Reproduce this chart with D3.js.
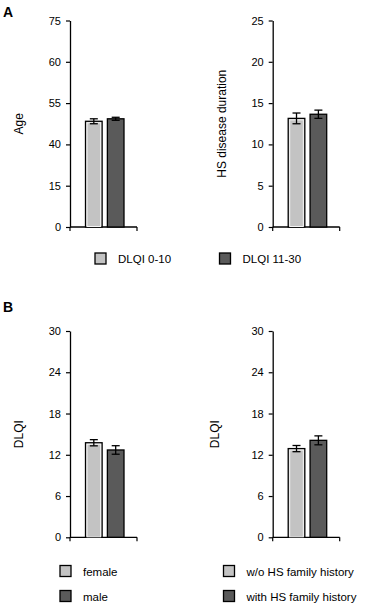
<!DOCTYPE html>
<html>
<head>
<meta charset="utf-8">
<script src="https://cdn.jsdelivr.net/npm/d3@7"></script>
<style>
  body { margin: 0; background: #fff; }
  text { font-family: "Liberation Sans", Arial, sans-serif; fill: #000; }
</style>
</head>
<body>
<div id="vis"></div>
<script>
// Datos
const ageTicks = [0, 15, 40, 55, 60, 75];
const ageMeans = [48.4, 49.3];
const ageErrors = [0.9, 0.55];

const durTicks = [0, 5, 10, 15, 20, 25];
const durMeans = [13.15, 13.65];
const durErrors = [0.65, 0.5];

const dlqiTicks = [0, 6, 12, 18, 24, 30];
const sexMeans = [13.75, 12.7];
const sexErrors = [0.45, 0.62];
const familyMeans = [12.9, 14.1];
const familyErrors = [0.45, 0.65];

const legendA = ["DLQI 0-10", "DLQI 11-30"];
const legendSex = ["female", "male"];
const legendFamily = ["w/o HS family history", "with HS family history"];

const WIDTH = 383;
const HEIGHT = 608;
const colores = ["#c3c3c3", "#5a5a5a"];

const SVG = d3.select("#vis").append("svg")
  .attr("width", WIDTH)
  .attr("height", HEIGHT);

// Dibuja un panel con eje Y, eje X y dos barras con error
function panel(axisX, top, bottom, ticks, means, errors, label, labelX) {
  const g = SVG.append("g");
  // escala polilineal: las marcas quedan igualmente espaciadas
  const y = d3.scaleLinear()
    .domain(ticks)
    .range(ticks.map((_, i) => bottom - (bottom - top) * i / (ticks.length - 1)));
  const x = d3.scaleBand()
    .domain([0, 1])
    .range([axisX + 15.5, axisX + 54])
    .paddingInner(0.24);

  const ejeY = d3.axisLeft(y).tickValues(ticks).tickSize(4).tickPadding(5).tickSizeOuter(0);
  const gy = g.append("g").attr("transform", `translate(${axisX},0)`).call(ejeY);
  gy.select(".domain").attr("stroke-width", 1.3);
  gy.selectAll(".tick line").attr("stroke-width", 1.2);
  gy.selectAll("text").attr("font-size", 11);

  // eje X con marcas en los extremos
  const xEnd = axisX + 67;
  g.append("line").attr("x1", axisX).attr("x2", xEnd)
    .attr("y1", bottom).attr("y2", bottom).attr("stroke", "black").attr("stroke-width", 1.3);
  [axisX, xEnd].forEach(px => {
    g.append("line").attr("x1", px).attr("x2", px)
      .attr("y1", bottom).attr("y2", bottom + 4).attr("stroke", "black").attr("stroke-width", 1.2);
  });

  const bars = g.selectAll(".bar").data(means).join("g").attr("class", "bar");
  bars.append("rect")
    .attr("x", (d, i) => x(i))
    .attr("y", d => y(d))
    .attr("width", x.bandwidth())
    .attr("height", d => bottom - y(d))
    .attr("fill", (d, i) => colores[i])
    .attr("stroke", "black")
    .attr("stroke-width", 1.3);
  // borde interior blanco de la barra clara
  bars.filter((d, i) => i === 0).append("rect")
    .attr("x", x(0) + 1.5)
    .attr("y", d => y(d) + 1.5)
    .attr("width", x.bandwidth() - 3)
    .attr("height", d => bottom - y(d) - 2)
    .attr("fill", "none")
    .attr("stroke", "#f4f4f4")
    .attr("stroke-width", 1);

  // barras de error
  means.forEach((m, i) => {
    const cx = x(i) + x.bandwidth() / 2;
    const y1 = y(m - errors[i]);
    const y2 = y(m + errors[i]);
    g.append("line").attr("x1", cx).attr("x2", cx).attr("y1", y1).attr("y2", y2)
      .attr("stroke", "black").attr("stroke-width", 1.3);
    [y1, y2].forEach(py => {
      g.append("line").attr("x1", cx - 4).attr("x2", cx + 4).attr("y1", py).attr("y2", py)
        .attr("stroke", "black").attr("stroke-width", 1.3);
    });
  });

  g.append("text")
    .attr("transform", `translate(${labelX},${(top + bottom) / 2}) rotate(-90)`)
    .attr("text-anchor", "middle")
    .attr("font-size", 12)
    .text(label);
}

function legendItem(px, py, color, txt) {
  SVG.append("rect").attr("x", px).attr("y", py).attr("width", 11).attr("height", 11)
    .attr("fill", color).attr("stroke", "black").attr("stroke-width", 1.3);
  SVG.append("text").attr("x", px + 23).attr("y", py + 10).attr("font-size", 11.5).text(txt);
}

// Panel A
SVG.append("text").attr("x", 3).attr("y", 17).attr("font-size", 14).attr("font-weight", "bold").text("A");
panel(70, 20.5, 227, ageTicks, ageMeans, ageErrors, "Age", 23);
panel(272.7, 20.5, 227, durTicks, durMeans, durErrors, "HS disease duration", 226);
legendItem(95, 253, colores[0], legendA[0]);
legendItem(219.5, 253, colores[1], legendA[1]);

// Panel B
SVG.append("text").attr("x", 3).attr("y", 312).attr("font-size", 14).attr("font-weight", "bold").text("B");
panel(70, 331, 537.3, dlqiTicks, sexMeans, sexErrors, "DLQI", 23);
panel(272.7, 331, 537.3, dlqiTicks, familyMeans, familyErrors, "DLQI", 219);
legendSex.forEach((t, i) => legendItem(60, 565.5 + i * 25, colores[i], t));
legendFamily.forEach((t, i) => legendItem(223.5, 565.5 + i * 25, colores[i], t));
</script>
</body>
</html>
